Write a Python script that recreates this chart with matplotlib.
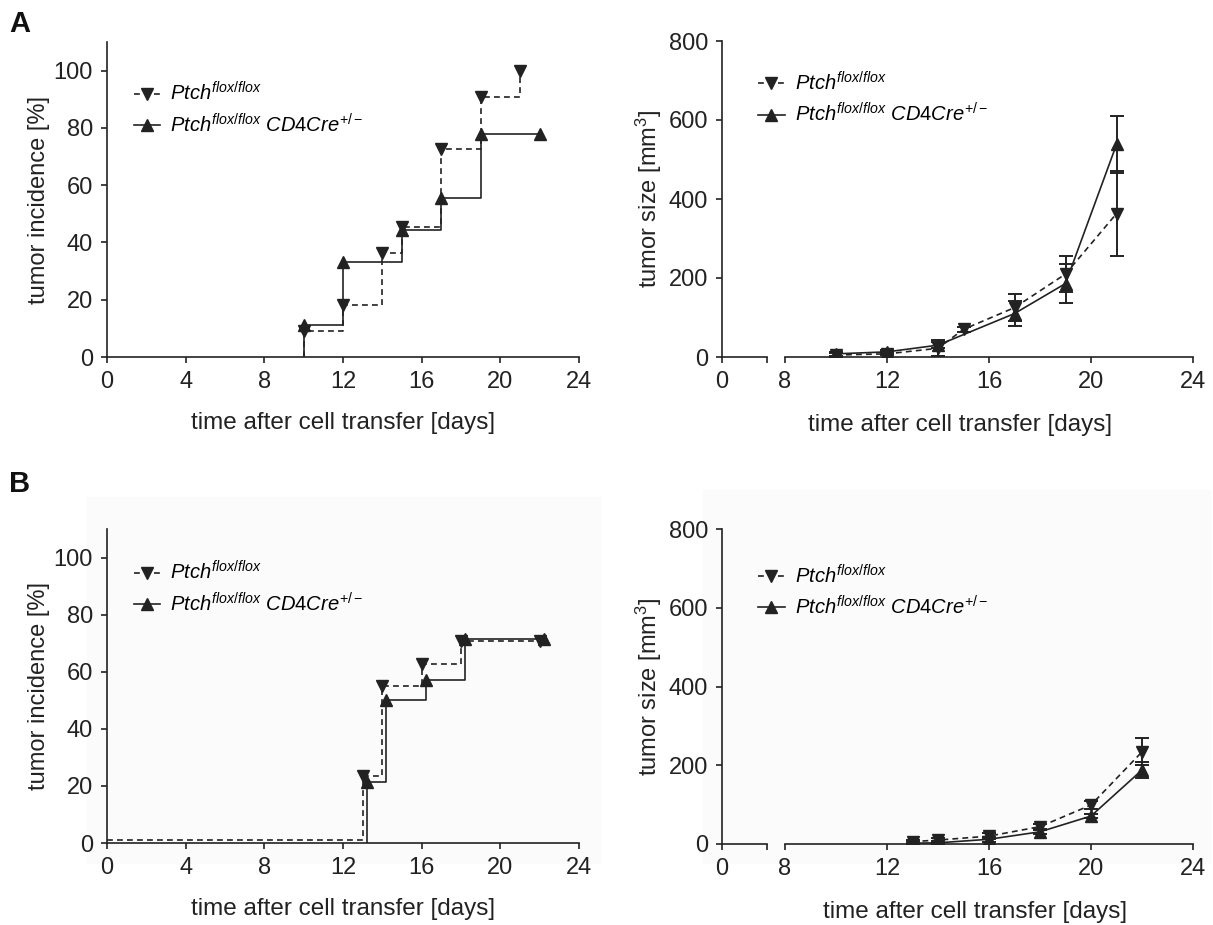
import matplotlib
matplotlib.use('Agg')
import matplotlib.pyplot as plt
from matplotlib.patches import Rectangle
from matplotlib.lines import Line2D

# tumor incidence [%], step curves
inc_days_ff_A = [10, 12, 14, 15, 17, 19, 21]
inc_ff_A = [9.1, 18.2, 36.4, 45.5, 72.7, 90.9, 100]
inc_days_cre_A = [10, 12, 15, 17, 19, 22]
inc_cre_A = [11.1, 33.3, 44.4, 55.6, 77.8, 77.8]

inc_days_ff_B = [13, 14, 16, 18, 22]
inc_ff_B = [23.5, 54.9, 62.7, 70.6, 70.6]
base_ff_B = 1.0
inc_days_cre_B = [13.2, 14.2, 16.2, 18.2, 22.2]
inc_cre_B = [21.4, 50.0, 57.1, 71.4, 71.4]

# tumor size [mm3], mean +/- error
size_days_ff_A = [10, 12, 14, 15, 17, 19, 21]
size_ff_A = [5, 8, 22, 70, 125, 210, 363]
err_ff_A = [4, 4, 20, 6, 35, 45, 107]
size_days_cre_A = [10, 12, 14, 17, 19, 21]
size_cre_A = [8, 13, 30, 110, 186, 538]
err_cre_A = [5, 5, 8, 32, 50, 71]

size_days_B = [13, 14, 16, 18, 20, 22]
size_ff_B = [6, 10, 20, 44, 99, 234]
err_ff_B = [5, 6, 8, 8, 10, 34]
size_cre_B = [2, 3, 12, 31, 71, 188]
err_cre_B = [3, 4, 6, 6, 6, 20]

lab_ff = r'$\mathit{Ptch}^{\mathit{flox/flox}}$'
lab_cre = r'$\mathit{Ptch}^{\mathit{flox/flox}}\ \mathit{CD4Cre}^{+/-}$'
xlab = 'time after cell transfer [days]'

plt.rcParams['font.family'] = ['Liberation Sans', 'DejaVu Sans']
plt.rcParams['mathtext.fontset'] = 'custom'
plt.rcParams['mathtext.it'] = 'Liberation Sans:italic'
plt.rcParams['mathtext.rm'] = 'Liberation Sans'
plt.rcParams['mathtext.sf'] = 'Liberation Sans'

W, H = 1213, 925
fig = plt.figure(figsize=(W / 100, H / 100), dpi=100)
C = '#222222'
LW = 1.2
DASH = (0, (3.5, 2.5))
TICK = 17

h_ff = Line2D([], [], color=C, lw=LW, ls=DASH, marker='v', ms=8)
h_cre = Line2D([], [], color=C, lw=LW, marker='^', ms=8)


def box(l, t, r, b):
    return [l / W, 1 - b / H, (r - l) / W, (b - t) / H]


def style(ax, left=True):
    for s in ['top', 'right']:
        ax.spines[s].set_visible(False)
    for s in ['left', 'bottom']:
        ax.spines[s].set_linewidth(1.2)
        ax.spines[s].set_color(C)
    if not left:
        ax.spines['left'].set_visible(False)
        ax.tick_params(axis='y', left=False, labelleft=False)
    ax.tick_params(direction='out', length=4, width=1.2, color=C,
                   labelsize=TICK, labelcolor=C, pad=6)
    ax.patch.set_alpha(0)


def legend(ax, anchor):
    ax.legend([h_ff, h_cre], [lab_ff, lab_cre], loc='upper left',
              bbox_to_anchor=anchor, frameon=False,
              fontsize=14.5, handlelength=1.3, handletextpad=0.5,
              labelspacing=0.4, numpoints=1, borderaxespad=0)


# faint grey backdrop behind panel B
for rect in [(87, 497, 600, 863), (703, 490, 1210, 863)]:
    l, t, r, b = rect
    fig.patches.append(Rectangle((l / W, 1 - b / H), (r - l) / W, (b - t) / H,
                                 transform=fig.transFigure, color='#fbfbfb',
                                 zorder=-10))


def incidence(ax, dff, yff, dcre, ycre, ff_start, anchor):
    ax.plot([ff_start[0]] + dff, [ff_start[1]] + yff, drawstyle='steps-post',
            color=C, lw=LW, ls=DASH, marker='v', ms=8,
            markevery=list(range(1, len(dff) + 1)))
    ax.plot([dcre[0]] + dcre, [0] + ycre, drawstyle='steps-post',
            color=C, lw=LW, marker='^', ms=8,
            markevery=list(range(1, len(dcre) + 1)))
    ax.set_xlim(0, 24)
    ax.set_ylim(0, 110)
    ax.set_xticks(range(0, 25, 4))
    ax.set_yticks(range(0, 101, 20))
    ax.set_ylabel('tumor incidence [%]', fontsize=17, color=C, labelpad=3)
    ax.set_xlabel(xlab, fontsize=17.5, color=C, labelpad=14)
    style(ax)
    legend(ax, anchor)


def tumor_size(stub, ax, dff, yff, eff, dcre, ycre, ecre, label_x, label_y, anchor):
    ax.errorbar(dff, yff, yerr=eff, color=C, lw=LW, ls=DASH, marker='v', ms=8,
                capsize=5, elinewidth=1.4, capthick=1.4)
    ax.errorbar(dcre, ycre, yerr=ecre, color=C, lw=LW, marker='^', ms=8,
                capsize=5, elinewidth=1.4, capthick=1.4)
    ax.set_xlim(8, 24)
    ax.set_xticks(range(8, 25, 4))
    stub.set_xlim(0, 45 / 25.5)
    stub.set_xticks([0, 45 / 25.5])
    stub.set_xticklabels(['0', ''])
    for a in (stub, ax):
        a.set_ylim(0, 800)
        a.set_yticks(range(0, 801, 200))
    style(stub)
    style(ax, left=False)
    stub.set_ylabel('tumor size [mm$^3$]', fontsize=17, color=C, labelpad=3)
    fig.text(label_x / W, 1 - label_y / H, xlab, fontsize=17.5, color=C,
             ha='center', va='center')
    legend(ax, anchor)


# panel A
axA1 = fig.add_axes(box(107, 42, 579, 357))
incidence(axA1, inc_days_ff_A, inc_ff_A, inc_days_cre_A, inc_cre_A,
          (inc_days_ff_A[0], 0), (0.04, 0.9))
stubA = fig.add_axes(box(722, 41, 767, 357))
axA2 = fig.add_axes(box(785, 41, 1193, 357))
tumor_size(stubA, axA2, size_days_ff_A, size_ff_A, err_ff_A,
           size_days_cre_A, size_cre_A, err_cre_A, 960, 425, (-0.085, 0.93))

# panel B
axB1 = fig.add_axes(box(107, 529, 579, 843))
incidence(axB1, inc_days_ff_B, inc_ff_B, inc_days_cre_B, inc_cre_B,
          (0, base_ff_B), (0.04, 0.925))
stubB = fig.add_axes(box(722, 529, 767, 844))
axB2 = fig.add_axes(box(785, 529, 1193, 844))
tumor_size(stubB, axB2, size_days_B, size_ff_B, err_ff_B,
           size_days_B, size_cre_B, err_cre_B, 975, 912, (-0.085, 0.915))

fig.text(9 / W, 1 - 10 / H, 'A', fontsize=21, weight='bold', va='top', color='#111111')
fig.text(9 / W, 1 - 470 / H, 'B', fontsize=21, weight='bold', va='top', color='#111111')

fig.savefig('out.png', dpi=100, facecolor='white')
